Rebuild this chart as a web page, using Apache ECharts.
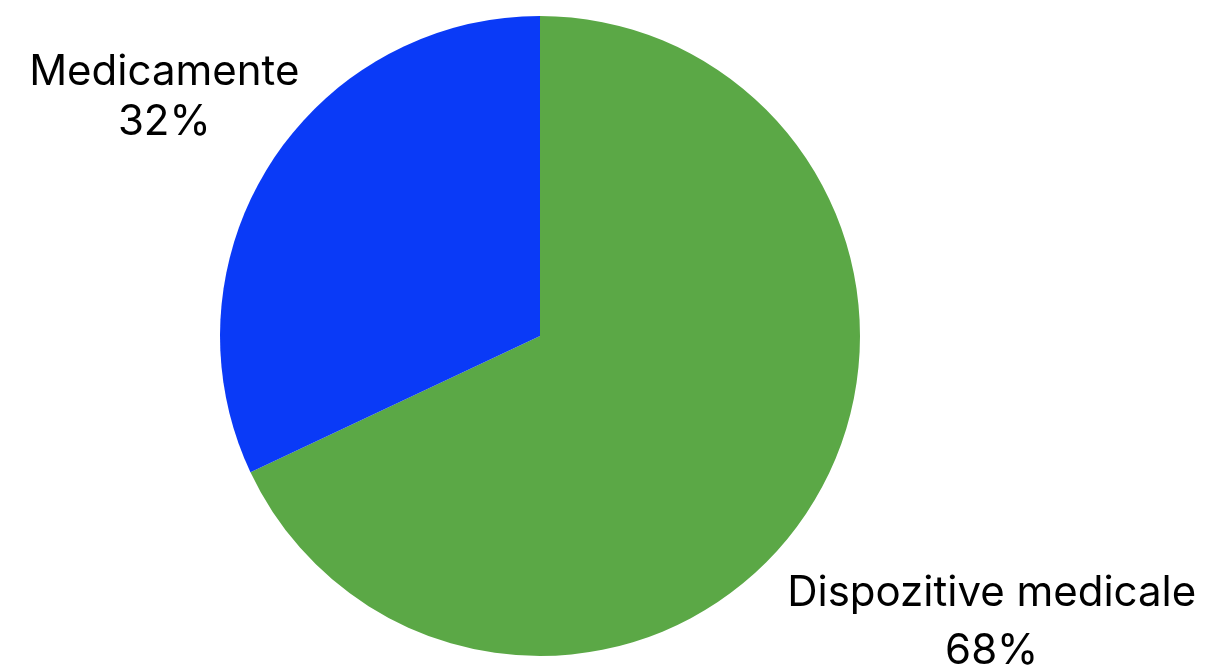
<!DOCTYPE html>
<html>
<head>
<meta charset="utf-8">
<script src="https://cdn.jsdelivr.net/npm/echarts@6/dist/echarts.min.js"></script>
<style>
  html, body { margin: 0; padding: 0; background: #fff; }
  #main { width: 1210px; height: 671px; }
</style>
</head>
<body>
<div id="main"></div>
<script>
var categories = ['Dispozitive medicale', 'Medicamente'];
var shares = [68, 32];
var colors = ['#5ba846', '#0a3af7'];

var cx = 540, cy = 336, r = 320;
// how far the label centres sit from the pie centre, per slice
var labelDist = [535, 445];
var labelLineHeight = [58, 50];

var total = shares.reduce(function (a, b) { return a + b; }, 0);
var midAngles = [];
var acc = 0;
for (var i = 0; i < shares.length; i++) {
    var mid = (acc + shares[i] / 2) / total * Math.PI * 2;
    midAngles.push(mid); // clockwise from top
    acc += shares[i];
}

var chart = echarts.init(document.getElementById('main'));
chart.setOption({
    animation: false,
    series: [{
        type: 'pie',
        center: [cx, cy],
        radius: r,
        startAngle: 90,
        clockwise: true,
        data: categories.map(function (c, i) {
            return {
                name: c,
                value: shares[i],
                itemStyle: { color: colors[i] },
                label: { lineHeight: labelLineHeight[i] }
            };
        }),
        label: {
            show: true,
            position: 'outside',
            formatter: '{b}\n{d}%',
            color: '#000',
            fontFamily: 'Inter',
            fontSize: 42,
            align: 'center',
            overflow: 'none',
            width: 600
        },
        labelLine: { show: false },
        labelLayout: function (params) {
            var a = midAngles[params.dataIndex];
            var d = labelDist[params.dataIndex];
            return {
                x: cx + d * Math.sin(a),
                y: cy - d * Math.cos(a),
                align: 'center',
                verticalAlign: 'middle'
            };
        },
        emphasis: { disabled: true }
    }]
});
</script>
</body>
</html>
